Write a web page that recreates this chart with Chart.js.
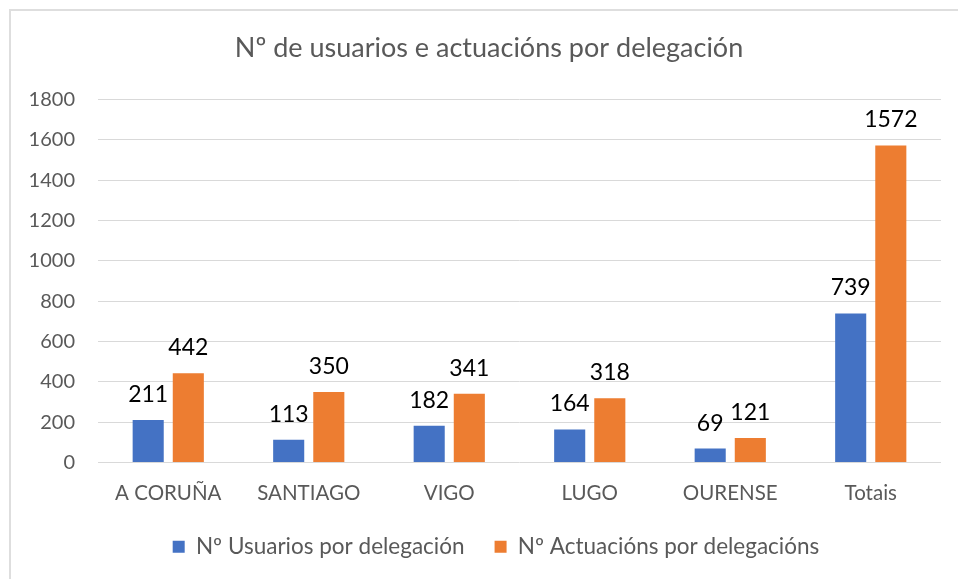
<!DOCTYPE html>
<html>
<head>
<meta charset="utf-8">
<script src="https://cdn.jsdelivr.net/npm/chart.js@4/dist/chart.umd.min.js"></script>
<style>
  html, body { margin: 0; padding: 0; background: #fff; overflow: hidden; }
  .frame {
    position: absolute; left: 9px; top: 9px; width: 960px; height: 580px;
    border-left: 2px solid #dedede; border-top: 2px solid #dedede;
  }
  #chart { position: absolute; left: 0; top: 0; }
</style>
</head>
<body>
<div class="frame"></div>
<canvas id="chart" width="958" height="579"></canvas>
<script>
const categories = ["A CORUÑA", "SANTIAGO", "VIGO", "LUGO", "OURENSE", "Totais"];
const usuarios = [211, 113, 182, 164, 69, 739];
const actuacions = [442, 350, 341, 318, 121, 1572];
const seriesNames = ["Nº Usuarios por delegación", "Nº Actuacións por delegacións"];
const chartTitle = "Nº de usuarios e actuacións por delegación";

const FONT = "Lato, 'Noto Sans', sans-serif";
const GREY_TEXT = "#595959";

// draws the value over each bar, like the excel data labels
const barValues = {
  id: "barValues",
  afterDatasetsDraw(chart) {
    const ctx = chart.ctx;
    ctx.save();
    ctx.font = "23px " + FONT;
    ctx.fillStyle = "#000";
    ctx.textAlign = "center";
    ctx.textBaseline = "alphabetic";
    chart.data.datasets.forEach((ds, i) => {
      chart.getDatasetMeta(i).data.forEach((bar, j) => {
        ctx.fillText(String(ds.data[j]), bar.x, bar.y - 18);
      });
    });
    ctx.restore();
  },
};

// excel centres title and legend a bit right of the plot, nudge them over
const boxNudge = {
  id: "boxNudge",
  afterLayout(chart) {
    if (chart.legend) {
      chart.legend.left += 17;
      chart.legend.right += 17;
    }
    if (chart.titleBlock) {
      chart.titleBlock.left += 10;
      chart.titleBlock.right += 10;
    }
  },
};

new Chart(document.getElementById("chart"), {
  type: "bar",
  data: {
    labels: categories,
    datasets: [
      {
        label: seriesNames[0],
        data: usuarios,
        backgroundColor: "#4472C4",
        categoryPercentage: 0.571,
        barPercentage: 0.775,
      },
      {
        label: seriesNames[1],
        data: actuacions,
        backgroundColor: "#ED7D31",
        categoryPercentage: 0.571,
        barPercentage: 0.775,
      },
    ],
  },
  options: {
    responsive: false,
    animation: false,
    layout: { padding: { left: 0, right: 0, top: 0, bottom: 11 } },
    plugins: {
      title: {
        display: true,
        text: chartTitle,
        color: GREY_TEXT,
        font: { family: FONT, size: 27, weight: "normal" },
        padding: { top: 32, bottom: 35 },
      },
      legend: {
        display: true,
        position: "bottom",
        labels: {
          color: GREY_TEXT,
          font: { family: FONT, size: 22.5 },
          boxWidth: 12,
          boxHeight: 12,
          padding: 30,
        },
      },
      tooltip: { enabled: false },
    },
    scales: {
      x: {
        grid: { display: false, drawTicks: false },
        border: { display: false },
        ticks: {
          color: GREY_TEXT,
          font: { family: FONT, size: 20.5 },
          padding: 19,
          maxRotation: 0,
        },
        afterFit(scale) {
          scale.height = 43;
        },
      },
      y: {
        min: 0,
        max: 1800,
        grid: { color: "#d9d9d9", lineWidth: 1, drawTicks: false },
        border: { display: false },
        ticks: {
          stepSize: 200,
          color: GREY_TEXT,
          font: { family: FONT, size: 20 },
          padding: 23,
          callback: (v) => String(v),
        },
        afterFit(scale) {
          scale.width = 98;
        },
      },
      // empty right axis, only keeps the plot clear of the right edge
      yR: {
        position: "right",
        grid: { display: false, drawTicks: false },
        border: { display: false },
        ticks: { display: false },
        afterFit(scale) {
          scale.width = 17;
        },
      },
    },
  },
  plugins: [barValues, boxNudge],
});
</script>
</body>
</html>
